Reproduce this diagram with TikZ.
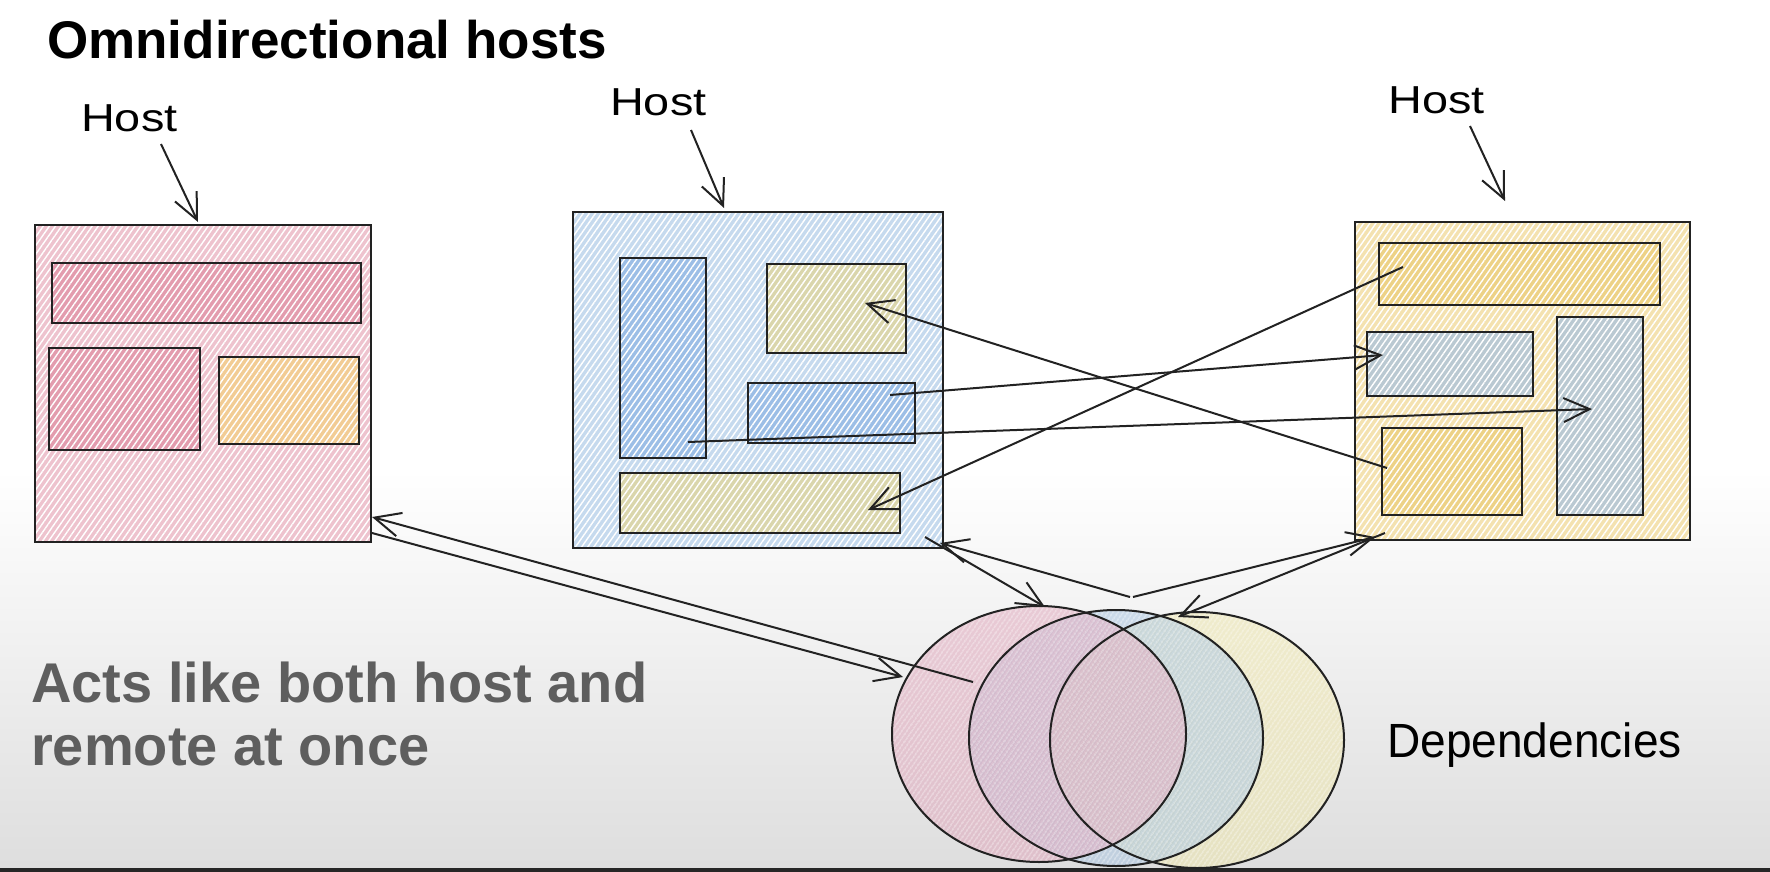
\documentclass[tikz,border=0pt]{standalone}
\usepackage{fontspec}
\setmainfont{Liberation Sans}
\usetikzlibrary{arrows.meta,patterns.meta,shapes.geometric}
\definecolor{pinkhost}{HTML}{EEC3CE}
\definecolor{pinkin}{HTML}{E39CAE}
\definecolor{orangein}{HTML}{F2CC94}
\definecolor{bluehost}{HTML}{C6DAEE}
\definecolor{bluein}{HTML}{9CBEE6}
\definecolor{khakiin}{HTML}{DAD6AC}
\definecolor{yellowhost}{HTML}{F4E2B0}
\definecolor{yellowin}{HTML}{EDD286}
\definecolor{greyin}{HTML}{BAC9D2}
\definecolor{vpink}{HTML}{DFA2B8}
\definecolor{vblue}{HTML}{A4C2E0}
\definecolor{vyellow}{HTML}{EEE6A8}
\definecolor{ink}{HTML}{222222}
\definecolor{greytext}{HTML}{5E5E5E}
\begin{document}
\begin{tikzpicture}[x=1pt,y=-1pt,
  box/.style={rectangle, anchor=north west, inner sep=0pt, outer sep=0pt,
    postaction={pattern={Lines[angle=55,distance=5pt,line width=1.4pt]}, pattern color=white},
    postaction={draw=ink, line width=2pt}},
  venn/.style={ellipse, minimum width=294pt, minimum height=256pt, inner sep=0pt, fill opacity=0.5,
    postaction={pattern={Lines[angle=55,distance=4pt,line width=1.2pt]}, pattern color=white, fill opacity=0.5}},
  vennline/.style={draw=ink, line width=2pt},
  conn/.style={draw=ink, line width=2pt, -{Straight Barb[length=26pt,width=24pt,line width=2pt]}},
  hand/.style={anchor=base west, inner sep=0pt, text=black},
]
% background
\fill[white] (0,0) rectangle (1770,872);
\shade[top color=white, bottom color=black!13] (0,470) rectangle (1770,868);
\fill[black!85] (0,868) rectangle (1770,872);
\useasboundingbox (0,0) rectangle (1770,872);

% titles
\node[hand] (title) at (47,59) {\fontsize{53}{60}\selectfont\bfseries Omnidirectional hosts};
\node[hand, text=greytext] (acts1) at (31,702) {\fontsize{56}{60}\selectfont\bfseries Acts like both host and};
\node[hand, text=greytext] (acts2) at (31,765) {\fontsize{56}{60}\selectfont\bfseries remote at once};

% host labels
\node[hand] (lab1) at (81,132) {\scalebox{1.2}[1]{\fontsize{39}{40}\selectfont Host}};
\node[hand] (lab2) at (610,116) {\scalebox{1.2}[1]{\fontsize{39}{40}\selectfont Host}};
\node[hand] (lab3) at (1388,114) {\scalebox{1.2}[1]{\fontsize{39}{40}\selectfont Host}};
\node[hand] (deps) at (1387,757) {\scalebox{0.96}[1]{\fontsize{48}{50}\selectfont Dependencies}};

% host 1 (pink)
\node[box, fill=pinkhost, minimum width=336pt, minimum height=317pt] (h1) at (35,225) {};
\node[box, fill=pinkin, minimum width=309pt, minimum height=60pt] (p1) at (52,263) {};
\node[box, fill=pinkin, minimum width=151pt, minimum height=102pt] (p2) at (49,348) {};
\node[box, fill=orangein, minimum width=140pt, minimum height=87pt] (p3) at (219,357) {};

% host 2 (blue)
\node[box, fill=bluehost, minimum width=370pt, minimum height=336pt] (h2) at (573,212) {};
\node[box, fill=bluein, minimum width=86pt, minimum height=200pt] (b1) at (620,258) {};
\node[box, fill=khakiin, minimum width=139pt, minimum height=89pt] (b2) at (767,264) {};
\node[box, fill=bluein, minimum width=167pt, minimum height=60pt] (b3) at (748,383) {};
\node[box, fill=khakiin, minimum width=280pt, minimum height=60pt] (b4) at (620,473) {};

% host 3 (yellow)
\node[box, fill=yellowhost, minimum width=335pt, minimum height=318pt] (h3) at (1355,222) {};
\node[box, fill=yellowin, minimum width=281pt, minimum height=62pt] (y1) at (1379,243) {};
\node[box, fill=greyin, minimum width=166pt, minimum height=64pt] (y2) at (1367,332) {};
\node[box, fill=greyin, minimum width=86pt, minimum height=198pt] (y3) at (1557,317) {};
\node[box, fill=yellowin, minimum width=140pt, minimum height=87pt] (y4) at (1382,428) {};

% dependencies venn
\node[venn, fill=vyellow] (c3) at (1197,740) {};
\node[venn, fill=vblue] (c2) at (1116,738) {};
\node[venn, fill=vpink] (c1) at (1039,734) {};
\draw[vennline] (c1.center) ellipse [x radius=147, y radius=128];
\draw[vennline] (c2.center) ellipse [x radius=147, y radius=128];
\draw[vennline] (c3.center) ellipse [x radius=147, y radius=128];

% connector end points
\coordinate (l1s) at (161,144); \coordinate (l1e) at (198,222);
\coordinate (l2s) at (691,130); \coordinate (l2e) at (724,208);
\coordinate (l3s) at (1470,126); \coordinate (l3e) at (1505,201);
\coordinate (a1s) at (1387,468); \coordinate (a1e) at (865,303);
\coordinate (a2s) at (890,395); \coordinate (a2e) at (1383,355);
\coordinate (a3s) at (688,442); \coordinate (a3e) at (1592,409);
\coordinate (a4s) at (1403,267); \coordinate (a4e) at (868,510);
\coordinate (a5s) at (973,682); \coordinate (a5e) at (372,517);
\coordinate (a6s) at (372,533); \coordinate (a6e) at (903,677);
\coordinate (a7s) at (1130,597); \coordinate (a7e) at (940,543);
\coordinate (a8s) at (925,537); \coordinate (a8e) at (1045,607);
\coordinate (a9s) at (1133,597); \coordinate (a9e) at (1375,537);
\coordinate (a10s) at (1385,533); \coordinate (a10e) at (1178,617);

\draw[conn] (l1s) -- (l1e);
\draw[conn] (l2s) -- (l2e);
\draw[conn] (l3s) -- (l3e);
\draw[conn] (a1s) -- (a1e);
\draw[conn] (a2s) -- (a2e);
\draw[conn] (a3s) -- (a3e);
\draw[conn] (a4s) -- (a4e);
\draw[conn] (a5s) -- (a5e);
\draw[conn] (a6s) -- (a6e);
\draw[conn] (a7s) -- (a7e);
\draw[conn] (a8s) -- (a8e);
\draw[conn] (a9s) -- (a9e);
\draw[conn] (a10s) -- (a10e);
\end{tikzpicture}
\end{document}
